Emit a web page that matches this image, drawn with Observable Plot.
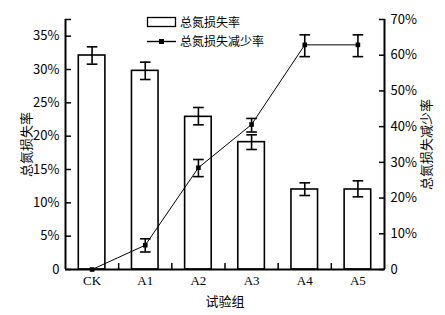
<!DOCTYPE html>
<html><head><meta charset="utf-8">
<script src="https://cdn.jsdelivr.net/npm/d3@7"></script>
<script src="https://cdn.jsdelivr.net/npm/@observablehq/plot@0.6"></script>
<style>
body{margin:0;background:#fff;}
#wrap{position:relative;width:445px;height:315px;font-family:'Liberation Serif','Noto Sans CJK SC',serif;}
#wrap svg.plot{position:absolute;left:0;top:0;}
.leg{position:absolute;font-size:12px;line-height:12px;font-family:'Noto Sans CJK SC',sans-serif;white-space:nowrap;}
</style></head><body><div id="wrap"></div>
<script>
const categories = ["CK","A1","A2","A3","A4","A5"];
const lossRate = [32.1, 29.8, 22.9, 19.1, 12.0, 12.0];
const lossLow = [30.8, 28.5, 21.7, 18.0, 11.1, 10.9];
const lossHigh = [33.4, 31.1, 24.3, 20.2, 13.0, 13.3];
const reduction = [0, 6.8, 28.5, 40.6, 62.9, 62.9];
const reductionLow = [null, 4.9, 26.0, 38.5, 59.6, 59.6];
const reductionHigh = [null, 8.6, 30.8, 42.3, 65.7, 65.7];
const leftTicks = [0, 5, 10, 15, 20, 25, 30, 35, 37.5];
const rightTicks = [0, 10, 20, 30, 40, 50, 60, 70];
const leftTitle = "总氮损失率";
const rightTitle = "总氮损失减少率";
const xTitle = "试验组";

const rows = categories.map((c, i) => ({i, c, loss: lossRate[i], lo: lossLow[i], hi: lossHigh[i],
  red: reduction[i], rlo: reductionLow[i], rhi: reductionHigh[i]}));
const errRows = rows.filter(d => d.rlo != null);
const bounds = categories.slice(1).map((c, i) => i + 0.5);

const common = {
  width: 445, height: 315,
  marginTop: 19, marginRight: 61, marginBottom: 46, marginLeft: 65,
  style: {background: "transparent", fontFamily: "'Liberation Serif','Noto Sans CJK SC',serif", fontSize: "13px", color: "black"},
  x: {domain: [-0.5, 5.5], axis: null},
};
const fmt = d => d === 0 ? "0" : (Number.isInteger(d) ? d + "%" : "");

const p1 = Plot.plot({
  ...common,
  y: {domain: [0, 37.5], axis: null},
  marks: [
    Plot.rectY(rows, {x1: d => d.i - 0.25, x2: d => d.i + 0.25, y: "loss", fill: "white", stroke: "black", strokeWidth: 1.6}),
    Plot.ruleX(rows, {x: "i", y1: "lo", y2: "hi", stroke: "black", strokeWidth: 1.6}),
    Plot.link(rows, {x1: d => d.i - 0.1, x2: d => d.i + 0.1, y1: "hi", y2: "hi", stroke: "black", strokeWidth: 1.6}),
    Plot.link(rows, {x1: d => d.i - 0.1, x2: d => d.i + 0.1, y1: "lo", y2: "lo", stroke: "black", strokeWidth: 1.6}),
    Plot.axisY({anchor: "left", ticks: leftTicks, tickSize: -6, tickPadding: 12, tickFormat: fmt, strokeWidth: 1.5,
      label: leftTitle, labelAnchor: "center", labelArrow: "none", labelOffset: 44, fontFamily: "'Noto Sans CJK SC',sans-serif"}),
    Plot.axisX({anchor: "bottom", ticks: [0,1,2,3,4,5], tickSize: 0, tickPadding: 6, tickFormat: i => categories[i],
      label: xTitle, labelAnchor: "center", labelArrow: "none", labelOffset: 36}),
    Plot.axisX({anchor: "bottom", ticks: bounds, tickSize: -6, tickFormat: () => "", label: null, strokeWidth: 1.5}),
    Plot.ruleX([-0.5, 5.5], {stroke: "black", strokeWidth: 2}),
    Plot.ruleY([0], {stroke: "black", strokeWidth: 2}),
  ]
});
p1.classList.add("plot");

const p2 = Plot.plot({
  ...common,
  y: {domain: [0, 70], axis: null},
  marks: [
    Plot.line(rows, {x: "i", y: "red", stroke: "black", strokeWidth: 1}),
    Plot.ruleX(errRows, {x: "i", y1: "rlo", y2: "rhi", stroke: "black", strokeWidth: 1.6}),
    Plot.link(errRows, {x1: d => d.i - 0.1, x2: d => d.i + 0.1, y1: "rhi", y2: "rhi", stroke: "black", strokeWidth: 1.6}),
    Plot.link(errRows, {x1: d => d.i - 0.1, x2: d => d.i + 0.1, y1: "rlo", y2: "rlo", stroke: "black", strokeWidth: 1.6}),
    Plot.dot(rows, {x: "i", y: "red", symbol: "square", r: 2.6, fill: "black"}),
    Plot.axisY({anchor: "right", ticks: rightTicks, tickSize: -6, tickPadding: 12, tickFormat: fmt, strokeWidth: 1.5,
      label: rightTitle, labelAnchor: "center", labelArrow: "none", labelOffset: 46, fontFamily: "'Noto Sans CJK SC',sans-serif"}),
  ]
});
p2.classList.add("plot");

const wrap = document.getElementById("wrap");
wrap.appendChild(p1);
wrap.appendChild(p2);

// legend
const leg = document.createElement("div");
leg.innerHTML = `
<svg style="position:absolute;left:0;top:0" width="445" height="60">
  <rect x="147.5" y="17.5" width="28" height="9" fill="white" stroke="black" stroke-width="1.3"></rect>
  <line x1="147" x2="176" y1="41.5" y2="41.5" stroke="black" stroke-width="1.4"></line>
  <rect x="159" y="39" width="5" height="5" fill="black"></rect>
</svg>
<div class="leg" style="left:180px;top:16px">${leftTitle}</div>
<div class="leg" style="left:180px;top:35px">${rightTitle}</div>`;
wrap.appendChild(leg);
</script></body></html>
